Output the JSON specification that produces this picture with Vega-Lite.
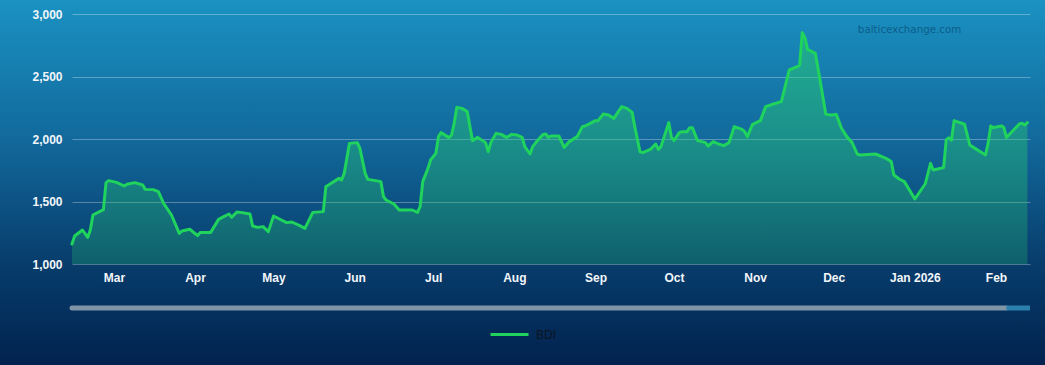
{
  "$schema": "https://vega.github.io/schema/vega-lite/v6.json",
  "width": 1045,
  "height": 365,
  "autosize": {"type": "none"},
  "padding": 0,
  "background": "#02214b",
  "config": {
    "view": {
      "stroke": null,
      "fill": {
        "gradient": "linear", "x1": 0, "y1": 0, "x2": 0, "y2": 1,
        "stops": [
          {"offset": 0, "color": "#1a92c2"},
          {"offset": 0.38, "color": "#12699c"},
          {"offset": 0.72, "color": "#073d6c"},
          {"offset": 1, "color": "#02224e"}
        ]
      }
    },
    "font": "Liberation Sans"
  },
  "data": {"values": [
    {"date": "2025-02-13", "bdi": 1160}, {"date": "2025-02-14", "bdi": 1224}, {"date": "2025-02-17", "bdi": 1272},
    {"date": "2025-02-19", "bdi": 1213}, {"date": "2025-02-20", "bdi": 1272}, {"date": "2025-02-21", "bdi": 1392},
    {"date": "2025-02-25", "bdi": 1435}, {"date": "2025-02-26", "bdi": 1651}, {"date": "2025-02-27", "bdi": 1667},
    {"date": "2025-03-02", "bdi": 1653}, {"date": "2025-03-05", "bdi": 1624}, {"date": "2025-03-06", "bdi": 1638},
    {"date": "2025-03-09", "bdi": 1651}, {"date": "2025-03-12", "bdi": 1632}, {"date": "2025-03-13", "bdi": 1597},
    {"date": "2025-03-16", "bdi": 1595}, {"date": "2025-03-18", "bdi": 1579}, {"date": "2025-03-20", "bdi": 1485},
    {"date": "2025-03-23", "bdi": 1392}, {"date": "2025-03-26", "bdi": 1245}, {"date": "2025-03-27", "bdi": 1264},
    {"date": "2025-03-30", "bdi": 1278}, {"date": "2025-04-02", "bdi": 1227}, {"date": "2025-04-03", "bdi": 1253},
    {"date": "2025-04-07", "bdi": 1253}, {"date": "2025-04-10", "bdi": 1357}, {"date": "2025-04-12", "bdi": 1379},
    {"date": "2025-04-14", "bdi": 1400}, {"date": "2025-04-15", "bdi": 1373}, {"date": "2025-04-17", "bdi": 1416},
    {"date": "2025-04-19", "bdi": 1411}, {"date": "2025-04-22", "bdi": 1400}, {"date": "2025-04-23", "bdi": 1304},
    {"date": "2025-04-25", "bdi": 1293}, {"date": "2025-04-27", "bdi": 1299}, {"date": "2025-04-29", "bdi": 1259},
    {"date": "2025-05-01", "bdi": 1384}, {"date": "2025-05-04", "bdi": 1352}, {"date": "2025-05-06", "bdi": 1331},
    {"date": "2025-05-08", "bdi": 1336}, {"date": "2025-05-11", "bdi": 1307}, {"date": "2025-05-13", "bdi": 1285},
    {"date": "2025-05-16", "bdi": 1413}, {"date": "2025-05-20", "bdi": 1419}, {"date": "2025-05-21", "bdi": 1619},
    {"date": "2025-05-22", "bdi": 1632}, {"date": "2025-05-26", "bdi": 1685}, {"date": "2025-05-27", "bdi": 1672},
    {"date": "2025-05-28", "bdi": 1725}, {"date": "2025-05-30", "bdi": 1965}, {"date": "2025-06-02", "bdi": 1971},
    {"date": "2025-06-03", "bdi": 1925}, {"date": "2025-06-05", "bdi": 1725}, {"date": "2025-06-06", "bdi": 1677},
    {"date": "2025-06-09", "bdi": 1667}, {"date": "2025-06-11", "bdi": 1659}, {"date": "2025-06-12", "bdi": 1539},
    {"date": "2025-06-13", "bdi": 1512}, {"date": "2025-06-16", "bdi": 1480}, {"date": "2025-06-18", "bdi": 1432},
    {"date": "2025-06-23", "bdi": 1432}, {"date": "2025-06-25", "bdi": 1413}, {"date": "2025-06-26", "bdi": 1459},
    {"date": "2025-06-27", "bdi": 1659}, {"date": "2025-06-29", "bdi": 1765}, {"date": "2025-06-30", "bdi": 1832},
    {"date": "2025-07-02", "bdi": 1885}, {"date": "2025-07-03", "bdi": 2019}, {"date": "2025-07-04", "bdi": 2051},
    {"date": "2025-07-07", "bdi": 2011}, {"date": "2025-07-08", "bdi": 2032}, {"date": "2025-07-09", "bdi": 2125},
    {"date": "2025-07-10", "bdi": 2253}, {"date": "2025-07-12", "bdi": 2245}, {"date": "2025-07-14", "bdi": 2219},
    {"date": "2025-07-16", "bdi": 1987}, {"date": "2025-07-18", "bdi": 2013}, {"date": "2025-07-21", "bdi": 1971},
    {"date": "2025-07-22", "bdi": 1899}, {"date": "2025-07-23", "bdi": 1971}, {"date": "2025-07-25", "bdi": 2045},
    {"date": "2025-07-27", "bdi": 2037}, {"date": "2025-07-29", "bdi": 2013}, {"date": "2025-07-31", "bdi": 2037},
    {"date": "2025-08-02", "bdi": 2032}, {"date": "2025-08-04", "bdi": 2013}, {"date": "2025-08-05", "bdi": 1939},
    {"date": "2025-08-07", "bdi": 1880}, {"date": "2025-08-08", "bdi": 1939}, {"date": "2025-08-10", "bdi": 1992},
    {"date": "2025-08-12", "bdi": 2037}, {"date": "2025-08-13", "bdi": 2040}, {"date": "2025-08-14", "bdi": 2013},
    {"date": "2025-08-15", "bdi": 2024}, {"date": "2025-08-18", "bdi": 2024}, {"date": "2025-08-20", "bdi": 1933},
    {"date": "2025-08-22", "bdi": 1979}, {"date": "2025-08-25", "bdi": 2019}, {"date": "2025-08-27", "bdi": 2099},
    {"date": "2025-08-28", "bdi": 2104}, {"date": "2025-08-30", "bdi": 2125}, {"date": "2025-09-01", "bdi": 2147},
    {"date": "2025-09-02", "bdi": 2147}, {"date": "2025-09-04", "bdi": 2200}, {"date": "2025-09-06", "bdi": 2192},
    {"date": "2025-09-08", "bdi": 2165}, {"date": "2025-09-11", "bdi": 2259}, {"date": "2025-09-13", "bdi": 2245},
    {"date": "2025-09-15", "bdi": 2213}, {"date": "2025-09-16", "bdi": 2099}, {"date": "2025-09-18", "bdi": 1899},
    {"date": "2025-09-19", "bdi": 1891}, {"date": "2025-09-22", "bdi": 1917}, {"date": "2025-09-24", "bdi": 1960},
    {"date": "2025-09-25", "bdi": 1917}, {"date": "2025-09-26", "bdi": 1939}, {"date": "2025-09-29", "bdi": 2131},
    {"date": "2025-09-30", "bdi": 2013}, {"date": "2025-10-01", "bdi": 1987}, {"date": "2025-10-03", "bdi": 2051},
    {"date": "2025-10-04", "bdi": 2059}, {"date": "2025-10-06", "bdi": 2059}, {"date": "2025-10-07", "bdi": 2091},
    {"date": "2025-10-08", "bdi": 2091}, {"date": "2025-10-10", "bdi": 1987}, {"date": "2025-10-13", "bdi": 1971},
    {"date": "2025-10-14", "bdi": 1944}, {"date": "2025-10-16", "bdi": 1979}, {"date": "2025-10-18", "bdi": 1960},
    {"date": "2025-10-20", "bdi": 1947}, {"date": "2025-10-22", "bdi": 1971}, {"date": "2025-10-24", "bdi": 2099},
    {"date": "2025-10-27", "bdi": 2077}, {"date": "2025-10-28", "bdi": 2059}, {"date": "2025-10-29", "bdi": 2019},
    {"date": "2025-10-31", "bdi": 2117}, {"date": "2025-11-03", "bdi": 2147}, {"date": "2025-11-05", "bdi": 2259},
    {"date": "2025-11-08", "bdi": 2280}, {"date": "2025-11-11", "bdi": 2299}, {"date": "2025-11-14", "bdi": 2552},
    {"date": "2025-11-17", "bdi": 2579}, {"date": "2025-11-18", "bdi": 2592}, {"date": "2025-11-19", "bdi": 2851},
    {"date": "2025-11-20", "bdi": 2813}, {"date": "2025-11-21", "bdi": 2717}, {"date": "2025-11-24", "bdi": 2685},
    {"date": "2025-11-26", "bdi": 2445}, {"date": "2025-11-28", "bdi": 2197}, {"date": "2025-11-30", "bdi": 2192},
    {"date": "2025-12-02", "bdi": 2197}, {"date": "2025-12-04", "bdi": 2085}, {"date": "2025-12-06", "bdi": 2019},
    {"date": "2025-12-08", "bdi": 1973}, {"date": "2025-12-10", "bdi": 1880}, {"date": "2025-12-11", "bdi": 1872},
    {"date": "2025-12-17", "bdi": 1880}, {"date": "2025-12-21", "bdi": 1845}, {"date": "2025-12-23", "bdi": 1819},
    {"date": "2025-12-24", "bdi": 1712}, {"date": "2025-12-26", "bdi": 1680}, {"date": "2025-12-28", "bdi": 1659},
    {"date": "2026-01-01", "bdi": 1520}, {"date": "2026-01-05", "bdi": 1642}, {"date": "2026-01-07", "bdi": 1805},
    {"date": "2026-01-08", "bdi": 1752}, {"date": "2026-01-12", "bdi": 1771}, {"date": "2026-01-13", "bdi": 1995},
    {"date": "2026-01-14", "bdi": 2010}, {"date": "2026-01-15", "bdi": 1990}, {"date": "2026-01-16", "bdi": 2147},
    {"date": "2026-01-20", "bdi": 2118}, {"date": "2026-01-22", "bdi": 1952}, {"date": "2026-01-24", "bdi": 1925},
    {"date": "2026-01-28", "bdi": 1872}, {"date": "2026-01-29", "bdi": 1965}, {"date": "2026-01-30", "bdi": 2104},
    {"date": "2026-01-31", "bdi": 2090}, {"date": "2026-02-03", "bdi": 2105}, {"date": "2026-02-04", "bdi": 2093},
    {"date": "2026-02-05", "bdi": 2012}, {"date": "2026-02-10", "bdi": 2122}, {"date": "2026-02-11", "bdi": 2125},
    {"date": "2026-02-12", "bdi": 2112}, {"date": "2026-02-13", "bdi": 2131}
  ]},
  "layer": [
    {
      "mark": {
        "type": "area",
        "fill": {
          "gradient": "linear", "x1": 0, "y1": 0, "x2": 0, "y2": 1,
          "stops": [
            {"offset": 0, "color": "rgba(40,205,110,0.52)"},
            {"offset": 1, "color": "rgba(40,205,110,0.24)"}
          ]
        }
      },
      "encoding": {
        "x": {
          "field": "date", "type": "temporal", "title": null,
          "scale": {
            "type": "utc",
            "domain": [{"year": 2025, "month": 2, "date": 13, "utc": true}, {"year": 2026, "month": 2, "date": 14, "utc": true}],
            "range": [72, 1030]
          },
          "axis": {
            "orient": "bottom", "offset": -101, "grid": false, "domain": false, "ticks": false, "tickSize": 0,
            "labelPadding": 8, "labelColor": "#f2f6fa", "labelFontWeight": "bold", "labelFontSize": 12,
            "labelFont": "Liberation Sans", "labelOverlap": false,
            "tickCount": {"interval": "month", "step": 1},
            "labelExpr": "utcmonth(datum.value) == 0 ? utcFormat(datum.value, '%b %Y') : utcFormat(datum.value, '%b')"
          }
        },
        "y": {
          "field": "bdi", "type": "quantitative", "title": null,
          "scale": {"domain": [1000, 3000], "range": [264, 14], "zero": false, "nice": false},
          "axis": {
            "orient": "left", "offset": -64, "domain": false, "ticks": false, "tickSize": 0, "labelPadding": 2,
            "values": [1000, 1500, 2000, 2500, 3000],
            "labelExpr": "format(datum.value, ',')",
            "labelColor": "#f2f6fa", "labelFontWeight": "bold", "labelFontSize": 12, "labelFont": "Liberation Sans",
            "grid": true, "gridColor": "#ffffff", "gridOpacity": 0.3, "gridWidth": 1
          }
        },
        "y2": {"datum": 1000}
      }
    },
    {
      "mark": {"type": "line", "strokeWidth": 3, "strokeJoin": "round", "strokeCap": "round"},
      "encoding": {
        "x": {"field": "date", "type": "temporal", "title": null},
        "y": {"field": "bdi", "type": "quantitative", "title": null},
        "color": {
          "datum": "BDI",
          "scale": {"range": ["#1fd35c"]},
          "legend": {
            "orient": "none", "legendX": 489, "legendY": 314, "title": null, "padding": 0,
            "symbolType": "stroke", "symbolSize": 1444, "symbolStrokeWidth": 3,
            "labelColor": "#0c1420", "labelFontSize": 12, "labelFont": "Liberation Sans", "labelOffset": 6
          }
        }
      }
    },
    {
      "data": {"values": [{}]},
      "mark": {"type": "rule", "strokeWidth": 5, "strokeCap": "round", "color": "#7e95a8"},
      "encoding": {
        "x": {"datum": {"year": 2025, "month": 2, "date": 13, "utc": true}, "type": "temporal", "title": null},
        "x2": {"datum": {"year": 2026, "month": 2, "date": 5, "utc": true}},
        "y": {"datum": 648, "type": "quantitative", "title": null}
      }
    },
    {
      "data": {"values": [{}]},
      "mark": {"type": "rule", "strokeWidth": 5, "strokeCap": "butt", "color": "#2a7fab"},
      "encoding": {
        "x": {"datum": {"year": 2026, "month": 2, "date": 5, "utc": true}, "type": "temporal", "title": null},
        "x2": {"datum": {"year": 2026, "month": 2, "date": 14, "utc": true}},
        "y": {"datum": 648, "type": "quantitative", "title": null}
      }
    },
    {
      "data": {"values": [{}]},
      "mark": {"type": "text", "font": "DejaVu Sans", "fontSize": 10.3, "color": "#0e5d8a", "align": "center", "baseline": "middle"},
      "encoding": {
        "x": {"datum": {"year": 2025, "month": 12, "date": 30, "utc": true}, "type": "temporal", "title": null},
        "y": {"datum": 2872, "type": "quantitative", "title": null},
        "text": {"value": "balticexchange.com"}
      }
    }
  ]
}
